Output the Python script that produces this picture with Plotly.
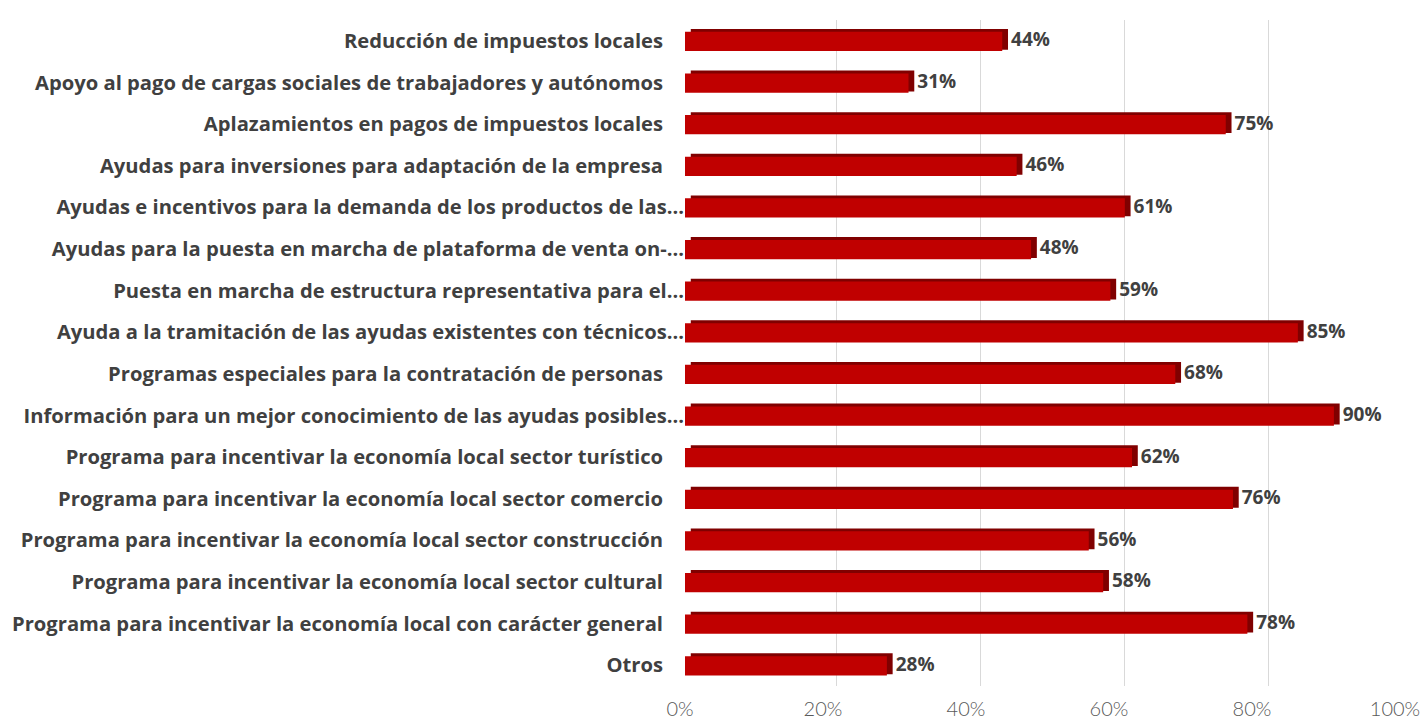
import plotly.graph_objects as go

categories = [
    "Reducción de impuestos locales",
    "Apoyo al pago de cargas sociales de trabajadores y autónomos",
    "Aplazamientos en pagos de impuestos locales",
    "Ayudas para inversiones para adaptación de la empresa",
    "Ayudas e incentivos para la demanda de los productos de las...",
    "Ayudas para la puesta en marcha de plataforma de venta on-...",
    "Puesta en marcha de estructura representativa para el...",
    "Ayuda a la tramitación de las ayudas existentes con técnicos...",
    "Programas especiales para la contratación de personas",
    "Información para un mejor conocimiento de las ayudas posibles...",
    "Programa para incentivar la economía local sector turístico",
    "Programa para incentivar la economía local sector comercio",
    "Programa para incentivar la economía local sector construcción",
    "Programa para incentivar la economía local sector cultural",
    "Programa para incentivar la economía local con carácter general",
    "Otros",
]
values = [0.44, 0.31, 0.75, 0.46, 0.61, 0.48, 0.59, 0.85, 0.68, 0.90,
          0.62, 0.76, 0.56, 0.58, 0.78, 0.28]
x_ticks = [0, 0.2, 0.4, 0.6, 0.8, 1.0]
x_tick_labels = ["0%", "20%", "40%", "60%", "80%", "100%"]

# Full labels in the original carry trailing spacing; truncated ones end at the bar
display_labels = [c if c.endswith("...") else c + "\u00a0\u00a0\u00a0\u00a0" for c in categories]
text_labels = [f"{round(v*100)}%" for v in values]

W, H = 1424, 725
PL, PR = 680, 1414          # plot area (pixels)
T, B = 20, 686
span = PR - PL


def dom(a, b):
    return [max(0, (a - PL) / span), min(1, (b - PL) / span)]


fig = go.Figure()

# invisible helper on grid axis (x) so the back-wall grid is drawn first
fig.add_trace(go.Scatter(x=x_ticks, y=[display_labels[0]] * len(x_ticks),
                         xaxis="x", yaxis="y", mode="markers",
                         marker=dict(opacity=0, size=1), hoverinfo="skip", showlegend=False))

# 3D depth (dark top/right faces)
fig.add_trace(go.Bar(
    y=display_labels, x=values, orientation="h", xaxis="x2", yaxis="y",
    base=0.008, offset=-0.285, width=0.5,
    marker=dict(color="#800000", line=dict(width=0)),
    text=text_labels, textposition="outside", cliponaxis=False,
    constraintext="none",
    textfont=dict(family="Open Sans", size=19, color="#404040", weight="bold"),
    hoverinfo="skip", showlegend=False,
))
# front face
fig.add_trace(go.Bar(
    y=display_labels, x=values, orientation="h", xaxis="x2", yaxis="y",
    offset=-0.215, width=0.46,
    marker=dict(color="#c00000", line=dict(width=0)),
    showlegend=False,
))

# invisible helper on tick-label axis (x3)
fig.add_trace(go.Scatter(x=x_ticks, y=[display_labels[0]] * len(x_ticks),
                         xaxis="x3", yaxis="y", mode="markers",
                         marker=dict(opacity=0, size=1), hoverinfo="skip", showlegend=False))

fig.update_layout(
    width=W, height=H, autosize=False,
    margin=dict(l=PL, r=W - PR, t=T, b=H - B, autoexpand=False),
    paper_bgcolor="white", plot_bgcolor="rgba(0,0,0,0)",
    barmode="overlay",
    xaxis=dict(  # back-wall grid
        domain=dom(692, 1413), anchor="y", automargin=False,
        range=[0, 1], tickvals=x_ticks, showticklabels=False, ticks="",
        showgrid=True, gridcolor="#d9d9d9", gridwidth=1,
        zeroline=False, showline=False, fixedrange=True,
    ),
    xaxis2=dict(  # bars
        domain=dom(685, 1406), anchor="y", automargin=False,
        range=[0, 1], showticklabels=False, ticks="",
        showgrid=False, zeroline=False, showline=False, fixedrange=True,
    ),
    xaxis3=dict(  # tick labels
        domain=dom(680, 1395), anchor="y", side="bottom", automargin=False,
        range=[0, 1], tickvals=x_ticks, ticktext=x_tick_labels,
        showgrid=False, zeroline=False, showline=False,
        tickfont=dict(family="Lato", size=20, color="#595959", weight=300),
        ticks="", ticklabelstandoff=9, fixedrange=True,
    ),
    yaxis=dict(
        type="category", categoryorder="array", categoryarray=display_labels,
        range=[len(display_labels) - 0.5, -0.5],
        showgrid=False, zeroline=False, showline=False,
        anchor="free", position=(685 - PL) / span,
        ticks="", ticklabelstandoff=1, fixedrange=True,
        tickfont=dict(family="Open Sans", size=20.2, color="#404040", weight="bold"),
        automargin=False,
    ),
    font=dict(family="Open Sans"),
)

fig.write_html("out.html", config={"displayModeBar": False},
               post_script="document.body.style.margin='0';")
